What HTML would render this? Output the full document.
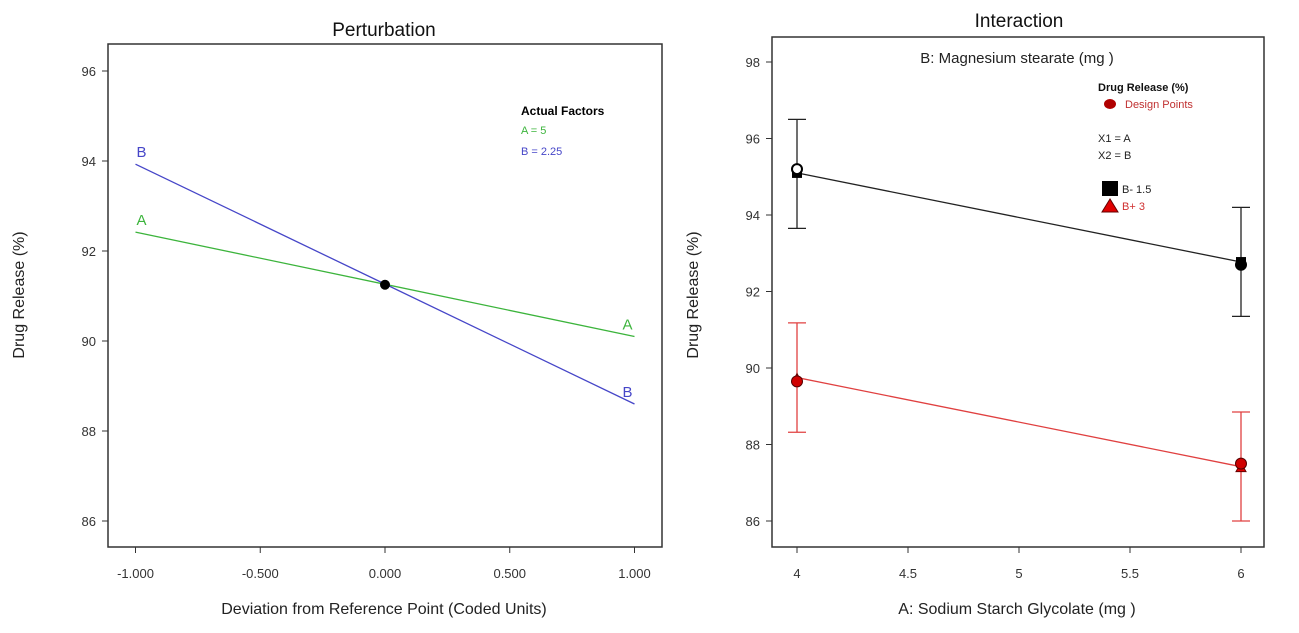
<!DOCTYPE html>
<html><head><meta charset="utf-8"><style>
body{margin:0;background:#fff;width:1299px;height:628px;overflow:hidden}
svg{font-family:"Liberation Sans",sans-serif}
</style></head><body>
<svg id="c" width="1299" height="628" xmlns="http://www.w3.org/2000/svg"></svg>
<script>
// Left chart data
const pertX=[-1,1];
const pertA=[92.42,90.1];
const pertB=[93.93,88.6];
const pertRef=[0,91.25];
const pertXTicks=[-1,-0.5,0,0.5,1];
const pertXTickLabels=["-1.000","-0.500","0.000","0.500","1.000"];
const pertYTicks=[86,88,90,92,94,96];
// Right chart data
const interX=[4,6];
const lowB=[95.1,92.77];
const lowBErrHi=[96.5,94.2];
const lowBErrLo=[93.65,91.35];
const highB=[89.75,87.42];
const highBErrHi=[91.18,88.85];
const highBErrLo=[88.32,86.0];
const designPtsBlack=[[4,95.2,'open'],[6,92.7,'fill']];
const designPtsRed=[[4,89.65],[6,87.5]];
const interXTicks=[4,4.5,5,5.5,6];
const interXTickLabels=["4","4.5","5","5.5","6"];
const interYTicks=[86,88,90,92,94,96,98];

const svg=document.getElementById('c');
const NS='http://www.w3.org/2000/svg';
function mk(tag,at,txt,parent){const e=document.createElementNS(NS,tag);for(const k in at)e.setAttribute(k,at[k]);if(txt!==undefined)e.textContent=txt;(parent||svg).appendChild(e);return e;}

// ---- Left
const lx=v=>385+v*249.5, ly=v=>71+(96-v)*45;
let e;
e=mk('rect',{x:108,y:44,width:554,height:503,fill:'none',stroke:'#333','stroke-width':1.5});

e=mk('text',{x:384,y:36,'text-anchor':'middle','font-size':19,fill:'#111'},'Perturbation');

pertYTicks.forEach(t=>{mk('line',{x1:102,x2:108,y1:ly(t),y2:ly(t),stroke:'#333'});
 e=mk('text',{x:96,y:ly(t)+5,'text-anchor':'end','font-size':13,fill:'#333'},String(t));
 });
pertXTicks.forEach((t,i)=>{mk('line',{x1:lx(t),x2:lx(t),y1:547,y2:553,stroke:'#333'});
 e=mk('text',{x:lx(t),y:578,'text-anchor':'middle','font-size':13,fill:'#333'},pertXTickLabels[i]);
 });
e=mk('text',{x:384,y:614,'text-anchor':'middle','font-size':16,fill:'#222'},'Deviation from Reference Point (Coded Units)');

e=mk('text',{x:0,y:0,transform:'translate(24,295) rotate(-90)','text-anchor':'middle','font-size':16,fill:'#222'},'Drug Release  (%)');

e=mk('line',{x1:lx(pertX[0]),y1:ly(pertA[0]),x2:lx(pertX[1]),y2:ly(pertA[1]),stroke:'#3cb43c','stroke-width':1.3});

e=mk('line',{x1:lx(pertX[0]),y1:ly(pertB[0]),x2:lx(pertX[1]),y2:ly(pertB[1]),stroke:'#4646c8','stroke-width':1.3});

[['A',pertA,'#3cb43c'],['B',pertB,'#4646c8']].forEach(([n,s,c])=>{
 e=mk('text',{x:lx(-1)+1,y:ly(s[0])-7,'font-size':15,fill:c},n);
 
 e=mk('text',{x:lx(1)-12,y:ly(s[1])-7,'font-size':15,fill:c},n);
 });
e=mk('circle',{cx:lx(pertRef[0]),cy:ly(pertRef[1]),r:5,fill:'#000'});

e=mk('text',{x:521,y:115,'font-size':12,'font-weight':'bold',fill:'#000'},'Actual Factors');

e=mk('text',{x:521,y:134,'font-size':11,fill:'#3cb43c'},'A = 5');

e=mk('text',{x:521,y:155,'font-size':11,fill:'#4646c8'},'B = 2.25');


// ---- Right
const rx=v=>797+(v-4)*222, ry=v=>62+(98-v)*38.25;
e=mk('rect',{x:772,y:37,width:492,height:510,fill:'none',stroke:'#333','stroke-width':1.5});

e=mk('text',{x:1019,y:27,'text-anchor':'middle','font-size':19,fill:'#111'},'Interaction');

e=mk('text',{x:1017,y:63,'text-anchor':'middle','font-size':15,fill:'#222'},'B: Magnesium stearate (mg )');

interYTicks.forEach(t=>{mk('line',{x1:766,x2:772,y1:ry(t),y2:ry(t),stroke:'#333'});
 e=mk('text',{x:760,y:ry(t)+5,'text-anchor':'end','font-size':13,fill:'#333'},String(t));
 });
interXTicks.forEach((t,i)=>{mk('line',{x1:rx(t),x2:rx(t),y1:547,y2:553,stroke:'#333'});
 e=mk('text',{x:rx(t),y:578,'text-anchor':'middle','font-size':13,fill:'#333'},interXTickLabels[i]);
 });
e=mk('text',{x:1017,y:614,'text-anchor':'middle','font-size':16,fill:'#222'},'A: Sodium Starch Glycolate  (mg )');

e=mk('text',{x:0,y:0,transform:'translate(698,295) rotate(-90)','text-anchor':'middle','font-size':16,fill:'#222'},'Drug Release  (%)');

function errBars(hi,lo,col,nm){interX.forEach((x,i)=>{const g=mk('g',{stroke:col,'stroke-width':1.3});
 
 mk('line',{x1:rx(x),x2:rx(x),y1:ry(hi[i]),y2:ry(lo[i])},undefined,g);
 mk('line',{x1:rx(x)-9,x2:rx(x)+9,y1:ry(hi[i]),y2:ry(hi[i])},undefined,g);
 mk('line',{x1:rx(x)-9,x2:rx(x)+9,y1:ry(lo[i]),y2:ry(lo[i])},undefined,g);});}
errBars(lowBErrHi,lowBErrLo,'#222','error-bar-b-low');
errBars(highBErrHi,highBErrLo,'#e04040','error-bar-b-high');
e=mk('line',{x1:rx(interX[0]),y1:ry(lowB[0]),x2:rx(interX[1]),y2:ry(lowB[1]),stroke:'#222','stroke-width':1.3});

e=mk('line',{x1:rx(interX[0]),y1:ry(highB[0]),x2:rx(interX[1]),y2:ry(highB[1]),stroke:'#e04040','stroke-width':1.3});

interX.forEach((x,i)=>{e=mk('rect',{x:rx(x)-5,y:ry(lowB[i])-5,width:10,height:10,fill:'#000'});
 
 const cx=rx(x),cy=ry(highB[i]);
 e=mk('polygon',{points:`${cx},${cy-4} ${cx-5},${cy+5} ${cx+5},${cy+5}`,fill:'#e00000',stroke:'#600'});
 });
designPtsBlack.forEach(p=>{e=mk('circle',{cx:rx(p[0]),cy:ry(p[1]),r:5,fill:p[2]==='open'?'#fff':'#000',stroke:'#000','stroke-width':2});
 });
designPtsRed.forEach(p=>{e=mk('circle',{cx:rx(p[0]),cy:ry(p[1]),r:5.5,fill:'#d00000',stroke:'#500'});
 });
// legend
e=mk('text',{x:1098,y:91,'font-size':11,'font-weight':'bold',fill:'#111'},'Drug Release  (%)');

e=mk('ellipse',{cx:1110,cy:104,rx:6,ry:5,fill:'#b00000'});

e=mk('text',{x:1125,y:108,'font-size':11,fill:'#c03030'},'Design Points');

e=mk('text',{x:1098,y:142,'font-size':11,fill:'#222'},'X1 = A');

e=mk('text',{x:1098,y:159,'font-size':11,fill:'#222'},'X2 = B');

e=mk('rect',{x:1102,y:181,width:16,height:15,fill:'#000'});

e=mk('text',{x:1122,y:193,'font-size':11,fill:'#222'},'B- 1.5');

e=mk('polygon',{points:'1110,199 1102,212 1118,212',fill:'#e00000',stroke:'#600'});

e=mk('text',{x:1122,y:210,'font-size':11,fill:'#d03030'},'B+ 3');

</script>
</body></html>
